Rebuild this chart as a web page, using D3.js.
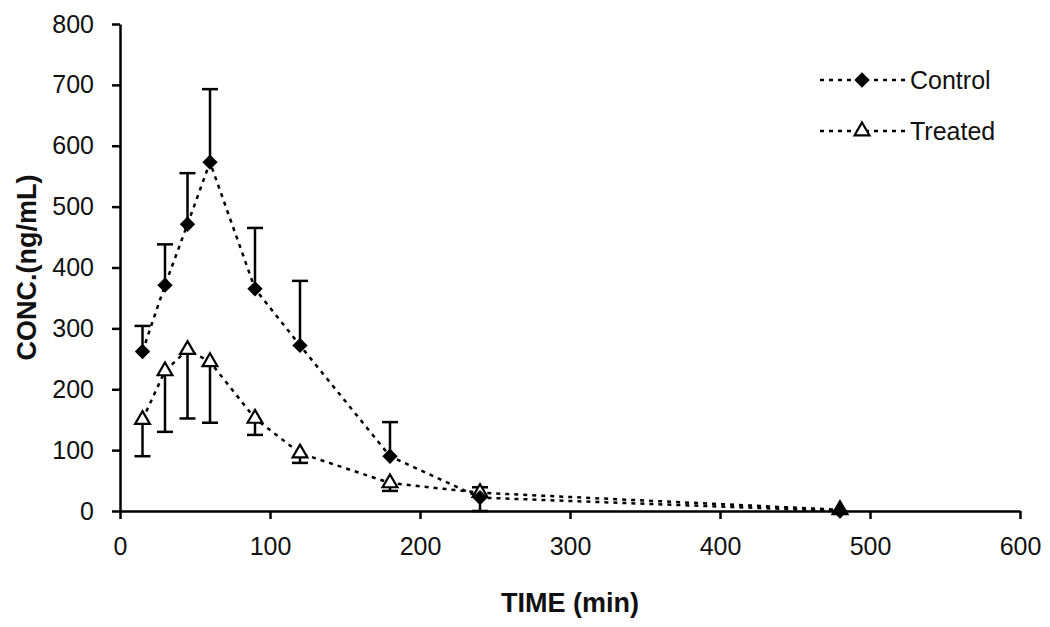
<!DOCTYPE html>
<html>
<head>
<meta charset="utf-8">
<script src="https://cdn.jsdelivr.net/npm/d3@7"></script>
<style>
  body { margin: 0; background: #fff; }
  text { font-family: "Liberation Sans", Arial, sans-serif; fill: #111; }
</style>
</head>
<body>
<svg id="chart" width="1050" height="627"></svg>
<script>
'use strict';

// sampling times (min)
var times = [15, 30, 45, 60, 90, 120, 180, 240, 480];

// mean concentrations (ng/mL) and one-sided error bars
var controlMean = [262, 371, 471, 573, 365, 272, 90, 22, 0];
var controlErr  = [42, 67, 84, 120, 100, 106, 56, 17, 0];      // drawn upward
var treatedMean = [150, 230, 265, 245, 152, 95, 46, 30, 2];
var treatedErr  = [60, 100, 113, 100, 27, 16, 13, 30, 0];      // drawn downward

var xTicks = [0, 100, 200, 300, 400, 500, 600];
var yTicks = [0, 100, 200, 300, 400, 500, 600, 700, 800];

var seriesNames = ['Control', 'Treated'];

var svg = d3.select('#chart');

var x = d3.scaleLinear().domain([0, 600]).range([120, 1020]);
var y = d3.scaleLinear().domain([0, 800]).range([511, 24]);

// axes
var xAxis = svg.append('g')
    .attr('transform', 'translate(0,' + y(0) + ')')
    .call(d3.axisBottom(x).tickValues(xTicks).tickSize(8).tickSizeOuter(0).tickPadding(18));
var yAxis = svg.append('g')
    .attr('transform', 'translate(' + x(0) + ',0)')
    .call(d3.axisLeft(y).tickValues(yTicks).tickSize(8).tickSizeOuter(0).tickPadding(18));

[xAxis, yAxis].forEach(function (ax) {
  ax.select('.domain').attr('stroke', '#000').attr('stroke-width', 2.5);
  ax.selectAll('.tick line').attr('stroke', '#000').attr('stroke-width', 2.5);
  ax.selectAll('.tick text')
    .attr('font-family', '"Liberation Sans", Arial, sans-serif')
    .attr('font-size', 25)
    .attr('fill', '#111');
});

// axis titles
svg.append('text')
    .attr('x', 570).attr('y', 612)
    .attr('text-anchor', 'middle')
    .attr('font-size', 27).attr('font-weight', 'bold')
    .text('TIME (min)');

svg.append('text')
    .attr('transform', 'translate(36,' + y(400) + ') rotate(-90)')
    .attr('text-anchor', 'middle')
    .attr('font-size', 27).attr('font-weight', 'bold')
    .text('CONC.(ng/mL)');

var line = d3.line()
    .x(function (d) { return x(d[0]); })
    .y(function (d) { return y(d[1]); });

var dash = '4,5';

function points(mean) {
  return times.map(function (t, i) { return [t, mean[i]]; });
}

// dotted connecting lines
svg.append('path')
    .datum(points(treatedMean))
    .attr('d', line)
    .attr('fill', 'none').attr('stroke', '#000')
    .attr('stroke-width', 2.5).attr('stroke-dasharray', dash);

svg.append('path')
    .datum(points(controlMean))
    .attr('d', line)
    .attr('fill', 'none').attr('stroke', '#000')
    .attr('stroke-width', 2.5).attr('stroke-dasharray', dash);

// error bars
function errorBars(mean, err, dir) {
  var g = svg.append('g').attr('stroke', '#000').attr('stroke-width', 2.5);
  times.forEach(function (t, i) {
    if (!err[i]) return;
    var end = mean[i] + dir * err[i];
    g.append('line')
      .attr('x1', x(t)).attr('x2', x(t))
      .attr('y1', y(mean[i])).attr('y2', y(end));
    g.append('line')
      .attr('x1', x(t) - 8).attr('x2', x(t) + 8)
      .attr('y1', y(end)).attr('y2', y(end));
  });
}
errorBars(controlMean, controlErr, 1);
errorBars(treatedMean, treatedErr, -1);

var diamond = d3.symbol().type(d3.symbolDiamond2).size(150);
var triangle = d3.symbol().type(d3.symbolTriangle).size(95);

// markers
svg.append('g').selectAll('path')
  .data(points(treatedMean))
  .join('path')
    .attr('d', triangle)
    .attr('transform', function (d) { return 'translate(' + x(d[0]) + ',' + y(d[1]) + ')'; })
    .attr('fill', '#fff').attr('stroke', '#000').attr('stroke-width', 2.2);

svg.append('g').selectAll('path')
  .data(points(controlMean))
  .join('path')
    .attr('d', diamond)
    .attr('transform', function (d) { return 'translate(' + x(d[0]) + ',' + y(d[1]) + ')'; })
    .attr('fill', '#000');

// legend
var legend = svg.append('g');
seriesNames.forEach(function (name, i) {
  var ly = 80 + i * 51;
  legend.append('line')
    .attr('x1', 820).attr('x2', 905).attr('y1', ly).attr('y2', ly)
    .attr('stroke', '#000').attr('stroke-width', 2.5).attr('stroke-dasharray', dash);
  legend.append('path')
    .attr('d', i === 0 ? diamond : triangle)
    .attr('transform', 'translate(862,' + ly + ')')
    .attr('fill', i === 0 ? '#000' : '#fff')
    .attr('stroke', i === 0 ? 'none' : '#000')
    .attr('stroke-width', 2.2);
  legend.append('text')
    .attr('x', 910).attr('y', ly).attr('dy', '0.35em')
    .attr('font-size', 25)
    .text(name);
});
</script>
</body>
</html>
